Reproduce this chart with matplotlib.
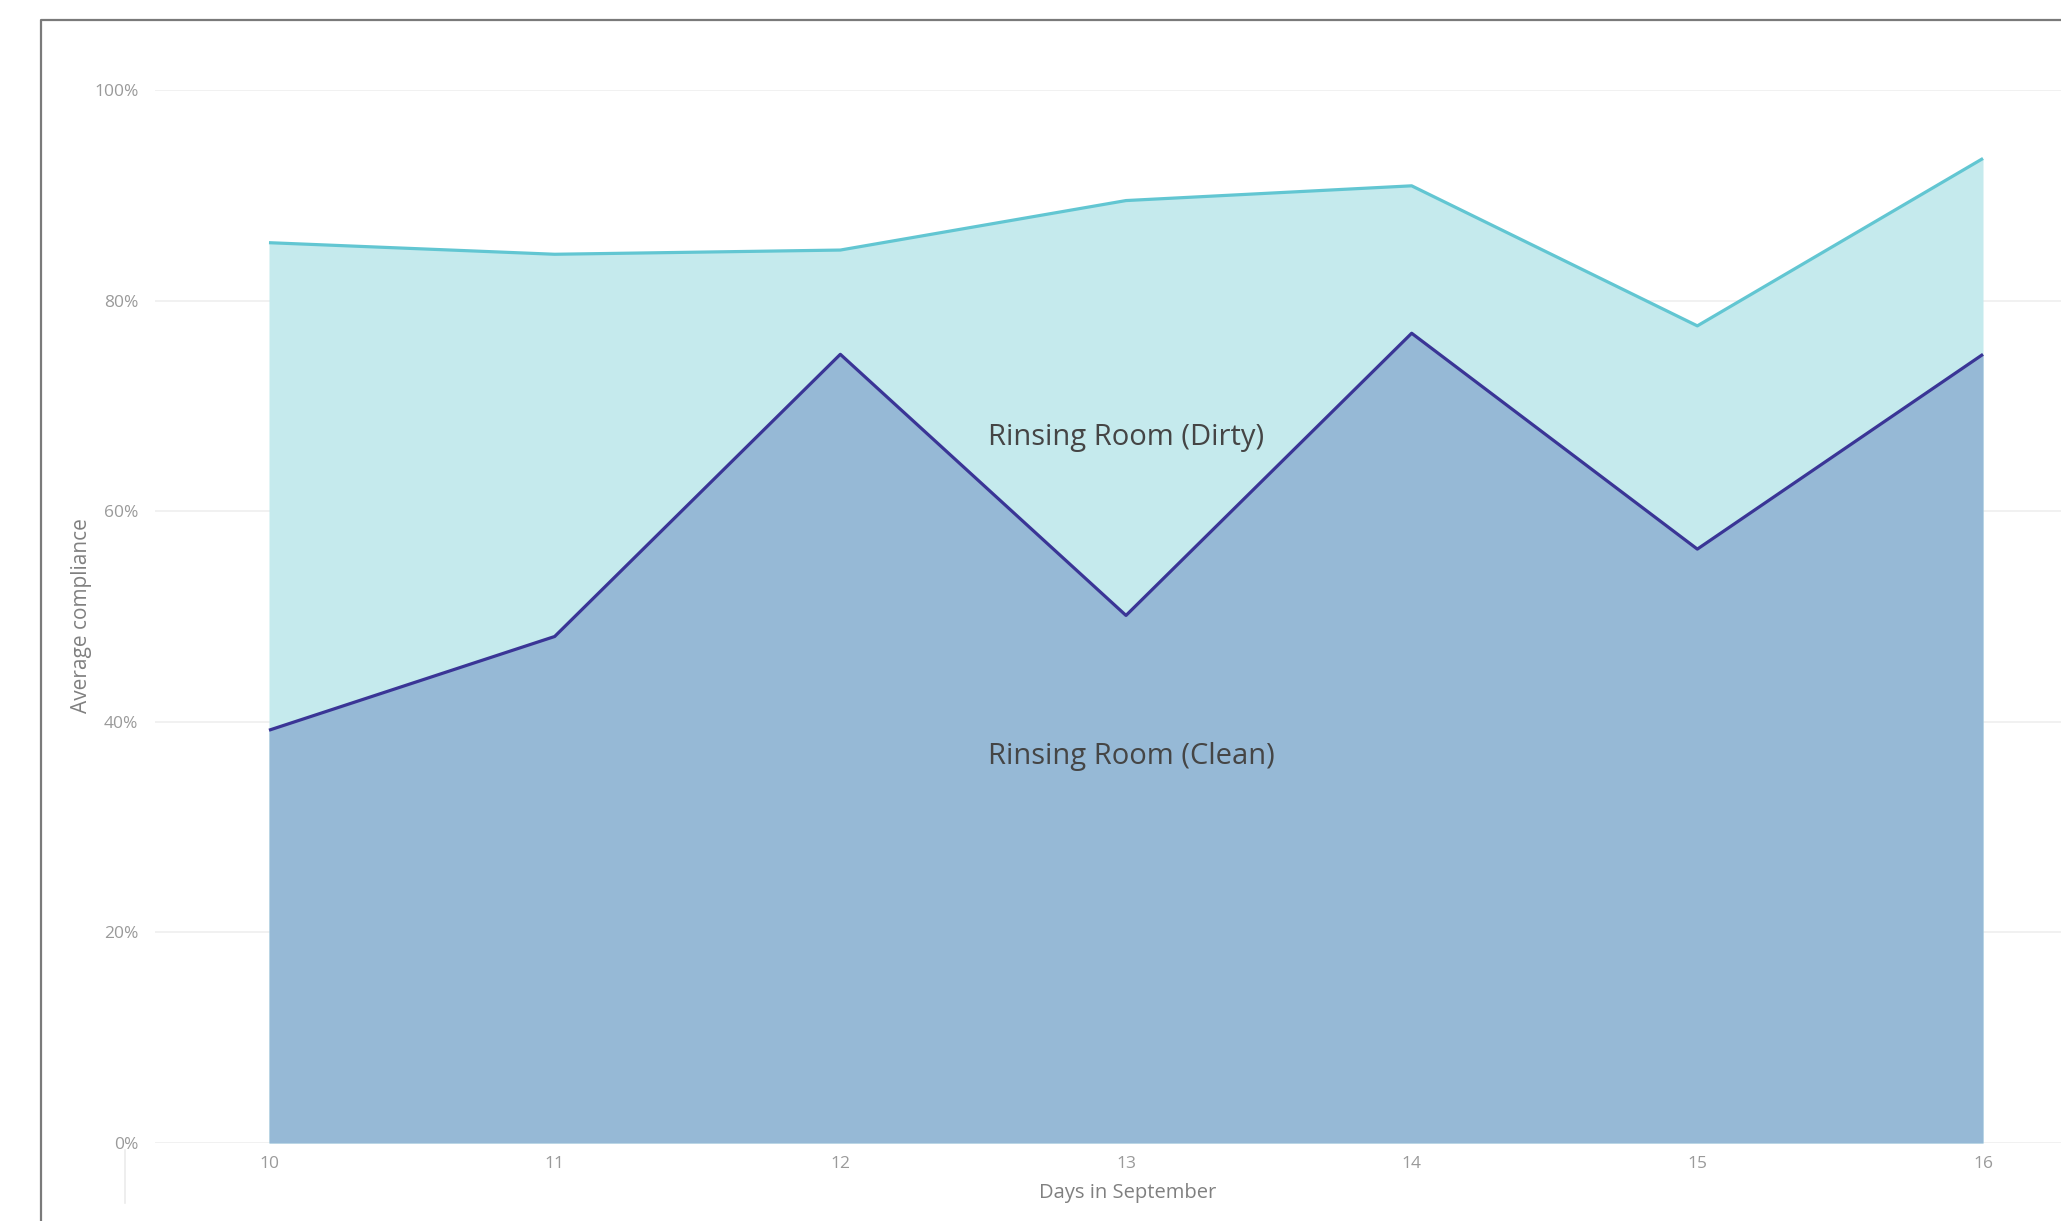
import matplotlib
matplotlib.use("Agg")
import matplotlib.pyplot as plt
from matplotlib.lines import Line2D

days = [10, 11, 12, 13, 14, 15, 16]
dirty = [85.5, 84.4, 84.8, 89.5, 90.9, 77.6, 93.5]
clean = [39.2, 48.1, 74.9, 50.1, 76.9, 56.4, 74.9]
y_ticks = [0, 20, 40, 60, 80, 100]
series_names = ["Rinsing Room (Dirty)", "Rinsing Room (Clean)"]

plt.rcParams['font.family'] = ['Open Sans', 'DejaVu Sans']

W, H = 2061, 1221
fig = plt.figure(figsize=(W / 100, H / 100), dpi=100)
fig.patch.set_facecolor('white')

# axes placed in pixels: left 155, right edge of figure, 0% at y=1143, 100% at y=90
ax = fig.add_axes([155 / W, (H - 1143) / H, 1 - 155 / W, (1143 - 90) / H])
ax.set_xlim(9.601, 16.273)
ax.set_ylim(0, 100)

ax.fill_between(days, 0, dirty, color='#C5EAED', lw=0, zorder=2)
ax.plot(days, dirty, color='#62C6D2', lw=2.3, zorder=4, solid_capstyle='butt')
ax.fill_between(days, 0, clean, color='#96B9D6', lw=0, zorder=3)
ax.plot(days, clean, color='#3A3596', lw=2.3, zorder=5, solid_capstyle='butt')

ax.set_yticks(y_ticks)
ax.set_yticklabels([f"{v}%" for v in y_ticks])
ax.set_xticks(days)
ax.set_xticklabels([str(d) for d in days])
ax.grid(axis='y', color='#EFEFEF', lw=1.2, zorder=1)
ax.set_axisbelow(True)
for s in ax.spines.values():
    s.set_visible(False)
ax.tick_params(axis='y', length=0, pad=12, labelsize=12.5, labelcolor='#9A9A9A')
ax.tick_params(axis='x', length=0, pad=9, labelsize=12.5, labelcolor='#9A9A9A')

# series labels
ax.text(13.0, 67.0, series_names[0], ha='center', va='center',
        fontsize=21, color='#454545', zorder=6)
ax.text(13.02, 36.7, series_names[1], ha='center', va='center',
        fontsize=21, color='#454545', zorder=6)

fig.text(81 / W, 1 - 616 / H, "Average compliance", rotation=90,
         ha='center', va='center', fontsize=15, color='#808080')
fig.text(1128 / W, 1 - 1193 / H, "Days in September",
         ha='center', va='center', fontsize=14.5, color='#808080')

# outer frame (cut off at right and bottom)
fig.add_artist(Line2D([41 / W, 41 / W, 1.0], [0, 1 - 20 / H, 1 - 20 / H],
                      transform=fig.transFigure, color='#7A7A7A', lw=1.6))
# small stub under the y axis
fig.add_artist(Line2D([125 / W, 125 / W], [1 - 1150 / H, 1 - 1203 / H],
                      transform=fig.transFigure, color='#EBEBEB', lw=1.2))

fig.savefig('out.png', dpi=100, facecolor='white')
